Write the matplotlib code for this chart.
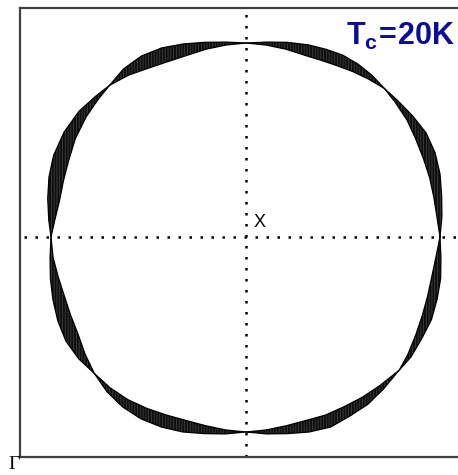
import numpy as np
import matplotlib
matplotlib.use("Agg")
import matplotlib.pyplot as plt

# polar angle around X (degrees) and inner / outer edge of the gapped band
angle = [0, 6, 12, 18, 24, 30, 36, 42, 47,
         52, 57, 62, 67, 72, 78, 84, 90,
         96, 102, 108, 114, 120, 126, 132,
         137, 143, 150, 157, 163, 169, 175, 180,
         186, 192, 198, 204, 210, 216, 222,
         228, 234, 240, 246, 252, 258, 264, 270,
         276, 282, 288, 294, 300, 306, 312, 319,
         324, 330, 336, 342, 348, 354, 360]
r_inner = [194, 192, 192, 193, 194, 196, 199, 201, 203,
           200, 197, 194, 192, 191, 192, 193, 194,
           193, 192, 191, 192, 195, 200, 204,
           202, 200, 197, 193, 191, 190, 192, 195,
           194, 192, 191, 192, 194, 199, 204,
           203, 201, 198, 195, 193, 193, 194, 195,
           194, 193, 193, 195, 196, 198, 200, 203,
           200, 196, 193, 191, 190, 191, 194]
r_outer = [194, 197, 200, 204, 207, 208, 206, 204, 203,
           205, 206, 206, 204, 202, 199, 196, 194,
           196, 199, 203, 207, 209, 208, 204,
           206, 209, 210, 209, 206, 202, 198, 195,
           197, 200, 203, 206, 208, 207, 204,
           208, 210, 210, 208, 205, 201, 198, 195,
           198, 201, 205, 208, 207, 207, 205, 203,
           204, 203, 203, 201, 199, 196, 194]

tc_label = r"$\mathbf{T_c\!=\!20K}$"

plt.rcParams["mathtext.fontset"] = "custom"
plt.rcParams["mathtext.bf"] = "Liberation Sans:bold"
plt.rcParams["mathtext.rm"] = "Liberation Sans"
plt.rcParams["hatch.linewidth"] = 0.6

th = np.radians(angle)
ri = np.array(r_inner, dtype=float)
ro = np.array(r_outer, dtype=float)
xi, yi = ri * np.cos(th), ri * np.sin(th)
xo, yo = ro * np.cos(th), ro * np.sin(th)

fig = plt.figure(figsize=(4.58, 4.75), dpi=100)
ax = fig.add_axes([20 / 458, 18 / 475, 449 / 458, 449 / 475])
ax.set_xlim(-226, 223)
ax.set_ylim(-220, 229)

# band between the two contours
ax.fill(np.concatenate([xo, xi[::-1]]), np.concatenate([yo, yi[::-1]]),
        facecolor="#0e0e0e", edgecolor="#404040", hatch="||||||", lw=0)
ax.plot(xi, yi, color="black", lw=0.9)
ax.plot(xo, yo, color="black", lw=0.9)

# dotted guides through X
dot = dict(color="black", lw=1.8, ls=(0, (1, 3.4)), dash_capstyle="butt")
ax.axhline(0, xmin=0.01, **dot)
ax.axvline(0, ymin=0.0, ymax=0.995, **dot)

ax.text(8, 15, "X", fontsize=13, family="Liberation Sans",
        ha="left", va="center")
fig.text(455 / 458, 1 - 45 / 475, tc_label, fontsize=22,
         color="#0c0c96", ha="right", va="baseline")
fig.text(8 / 458, 1 - 473 / 475, "Γ", fontsize=14, family="Liberation Serif",
         ha="left", va="bottom")

ax.set_xticks([])
ax.set_yticks([])
for s in ax.spines.values():
    s.set_color("#404040")
    s.set_linewidth(1.6)

fig.savefig("out.png", dpi=100)
